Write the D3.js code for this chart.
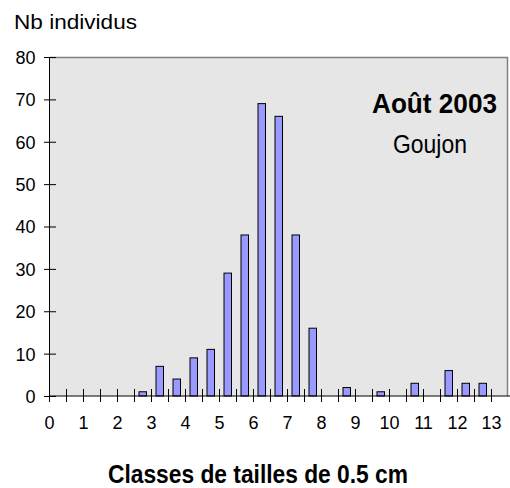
<!DOCTYPE html>
<html>
<head>
<meta charset="utf-8">
<script src="https://cdn.jsdelivr.net/npm/d3@7"></script>
<style>
  body { margin: 0; background: #fff; }
  text { font-family: "Liberation Sans", Arial, sans-serif; fill: #000; }
</style>
</head>
<body>
<div id="chart"></div>
<script>
// lower bound of each 0.5 cm size class, and fish counted in it
var classes = [0, 0.5, 1, 1.5, 2, 2.5, 3, 3.5, 4, 4.5, 5, 5.5, 6, 6.5, 7, 7.5,
               8, 8.5, 9, 9.5, 10, 10.5, 11, 11.5, 12, 12.5, 13];
var counts = [0, 0, 0, 0, 0, 1, 7, 4, 9, 11, 29, 38, 69, 66, 38, 16,
              0, 2, 0, 1, 0, 3, 0, 6, 3, 3, 0];
var x_ticks = [0, 1, 2, 3, 4, 5, 6, 7, 8, 9, 10, 11, 12, 13];
var y_ticks = [0, 10, 20, 30, 40, 50, 60, 70, 80];

var chart_width = 510;
var chart_height = 488;
var left = 49, right = 508, top_y = 57, bottom = 396;
var class_width = 0.5;

var svg = d3.select('#chart')
      .append('svg')
      .attr('width', chart_width)
      .attr('height', chart_height);

var x_scale = d3.scaleLinear()
        .domain([0, 13.5])
        .range([left, right]);

var y_scale = d3.scaleLinear()
        .domain([0, 80])
        .range([bottom, top_y]);

// plot area
svg.append('rect')
   .attr('x', left)
   .attr('y', top_y)
   .attr('width', right - left)
   .attr('height', bottom - top_y)
   .attr('fill', '#e6e6e6');

svg.append('path')
   .attr('d', 'M' + left + ',' + (top_y + 0.5) + 'H' + (right - 0.5) + 'V' + bottom)
   .attr('fill', 'none')
   .attr('stroke', '#808080')
   .attr('stroke-width', 1.5);

// bars
var bar_data = classes.map(function(c, i) { return [c, counts[i]]; })
  .filter(function(d) { return d[1] > 0; });

svg.append('g')
   .selectAll('rect')
   .data(bar_data)
   .enter()
   .append('rect')
   .attr('x', function(d) { return x_scale(d[0] + class_width / 2) - 3.5; })
   .attr('y', function(d) { return y_scale(d[1]); })
   .attr('width', 7.5)
   .attr('height', function(d) { return bottom - y_scale(d[1]); })
   .attr('fill', '#9999ff')
   .attr('stroke', '#000')
   .attr('stroke-width', 1);

// x axis: ticks every half class, labels on whole cm
var x_axis = d3.axisBottom(x_scale)
        .tickValues(d3.range(0, 13.01, 0.5))
        .tickSizeInner(6)
        .tickSizeOuter(0)
        .tickFormat(function(d) { return x_ticks.indexOf(d) >= 0 ? d : ''; });

var gx = svg.append('g')
   .attr('transform', 'translate(0,' + bottom + ')')
   .call(x_axis);
gx.select('.domain').attr('d', 'M' + left + ',0H' + chart_width).attr('stroke', '#000');
gx.selectAll('.tick line').attr('y1', -7).attr('y2', 6).attr('stroke', '#000');
gx.selectAll('.tick text')
  .attr('y', 0)
  .attr('dy', 33)
  .attr('font-size', 18);

var y_axis = d3.axisLeft(y_scale)
        .tickValues(y_ticks)
        .tickSizeOuter(0);

var gy = svg.append('g')
   .attr('transform', 'translate(' + left + ',0)')
   .call(y_axis);
gy.select('.domain').attr('stroke', '#000');
gy.selectAll('.tick line').attr('x1', -5).attr('x2', 7).attr('stroke', '#000');
gy.selectAll('.tick text')
  .attr('x', -13.5)
  .attr('dy', '0.36em')
  .attr('font-size', 18);

// texts
svg.append('text')
   .attr('x', 14)
   .attr('y', 29)
   .attr('font-size', 21)
   .attr('textLength', 123)
   .attr('lengthAdjust', 'spacingAndGlyphs')
   .text('Nb individus');

svg.append('text')
   .attr('x', 372)
   .attr('y', 113)
   .attr('font-size', 27)
   .attr('font-weight', 'bold')
   .attr('textLength', 125)
   .attr('lengthAdjust', 'spacingAndGlyphs')
   .text('Août 2003');

svg.append('text')
   .attr('x', 393)
   .attr('y', 153)
   .attr('font-size', 25)
   .attr('textLength', 74)
   .attr('lengthAdjust', 'spacingAndGlyphs')
   .text('Goujon');

svg.append('text')
   .attr('x', 108)
   .attr('y', 483)
   .attr('font-size', 25)
   .attr('font-weight', 'bold')
   .attr('textLength', 300)
   .attr('lengthAdjust', 'spacingAndGlyphs')
   .text('Classes de tailles de 0.5 cm');
</script>
</body>
</html>
